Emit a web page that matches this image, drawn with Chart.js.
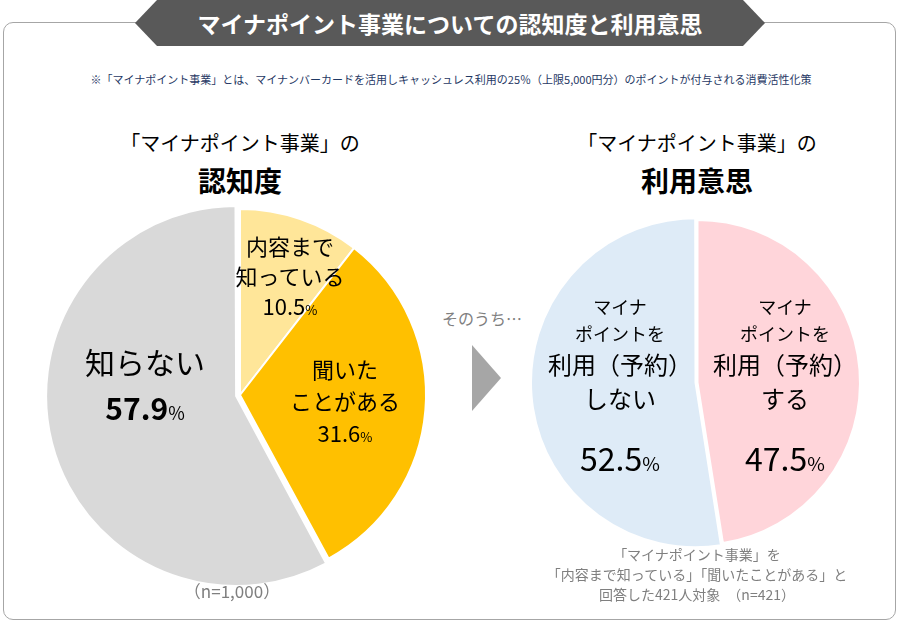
<!DOCTYPE html>
<html><head><meta charset="utf-8">
<script src="https://cdn.jsdelivr.net/npm/chart.js@4"></script>
<style>
body{margin:0;width:901px;height:626px;position:relative;background:#fff;font-family:"Noto Sans CJK JP",sans-serif;overflow:hidden}
.frame{position:absolute;left:3px;top:22px;width:891px;height:596px;border:1.5px solid #A6A6A6;border-radius:10px}
.banner{position:absolute;left:135px;top:0;width:630px;height:46px;background:#595959;clip-path:polygon(22px 0,608px 0,630px 23px,608px 46px,22px 46px,0 23px);color:#fff;font-weight:bold;font-size:23px;text-align:center;line-height:46px}
.t{position:absolute;text-align:center;white-space:nowrap;transform:translateX(-50%)}
.p{font-size:0.6em}
canvas{position:absolute}
</style></head><body>
<div class="frame"></div>
<div class="banner">マイナポイント事業についての認知度と利用意思</div>
<div class="t" style="left:451px;top:71px;font-size:11px;color:#1F3864">※「マイナポイント事業」とは、マイナンバーカードを活用しキャッシュレス利用の25％（上限5,000円分）のポイントが付与される消費活性化策</div>
<div class="t" style="left:240px;top:128px;font-size:20px;color:#000">「マイナポイント事業」の</div>
<div class="t" style="left:240px;top:160px;font-size:28px;font-weight:bold;color:#000">認知度</div>
<div class="t" style="left:697px;top:128px;font-size:20px;color:#000">「マイナポイント事業」の</div>
<div class="t" style="left:697px;top:160px;font-size:28px;font-weight:bold;color:#000">利用意思</div>
<div style="position:absolute;left:40px;top:200px;width:400px;height:390px"><canvas id="c1"></canvas></div>
<div style="position:absolute;left:525px;top:215px;width:345px;height:335px"><canvas id="c2"></canvas></div>
<div style="position:absolute;left:472px;top:345px;width:0;height:0;border-top:33px solid transparent;border-bottom:33px solid transparent;border-left:29px solid #A6A6A6"></div>
<div class="t" style="left:482px;top:306px;font-size:16px;color:#7F7F7F">そのうち…</div>
<div class="t" style="left:290px;top:230px;font-size:22px;line-height:30px;color:#000">内容まで<br>知っている<br>10.5<span class="p">%</span></div>
<div class="t" style="left:345px;top:352px;font-size:22px;line-height:32px;color:#000">聞いた<br>ことがある<br>31.6<span class="p">%</span></div>
<div class="t" style="left:145px;top:338px;font-size:30px;line-height:46px;color:#000">知らない<br><b>57.9</b><span class="p">%</span></div>
<div class="t" style="left:620px;top:293px;font-size:18px;line-height:27px;color:#000">マイナ<br>ポイントを<br><span style="font-size:24px;line-height:34px">利用（予約）<br>しない</span></div>
<div class="t" style="left:620px;top:434px;font-size:32px;color:#000">52.5<span class="p">%</span></div>
<div class="t" style="left:785px;top:293px;font-size:18px;line-height:27px;color:#000">マイナ<br>ポイントを<br><span style="font-size:24px;line-height:34px">利用（予約）<br>する</span></div>
<div class="t" style="left:785px;top:434px;font-size:32px;color:#000">47.5<span class="p">%</span></div>
<div class="t" style="left:232px;top:578px;font-size:17px;color:#7F7F7F">（n=1,000）</div>
<div class="t" style="left:697px;top:544px;font-size:14px;line-height:20px;color:#7F7F7F">「マイナポイント事業」を<br>「内容まで知っている」「聞いたことがある」と<br>回答した421人対象　（n=421）</div>
<script>
const awareLabels = ['内容まで知っている', '聞いたことがある', '知らない'];
const awareValues = [10.5, 31.6, 57.9];
const useLabels = ['利用（予約）する', '利用（予約）しない'];
const useValues = [47.5, 52.5];

const base = {
  responsive: true, maintainAspectRatio: false, animation: false,
  plugins: { legend: { display: false }, tooltip: { enabled: false } }
};
new Chart(document.getElementById('c1'), {
  type: 'pie',
  data: { labels: awareLabels, datasets: [{ data: awareValues,
    backgroundColor: ['#FFE699', '#FFC000', '#D9D9D9'],
    borderColor: '#fff', borderWidth: 2, offset: [0, 0, 16] }] },
  options: base
});
new Chart(document.getElementById('c2'), {
  type: 'pie',
  data: { labels: useLabels, datasets: [{ data: useValues,
    backgroundColor: ['#FFD5DA', '#DEEBF7'],
    borderColor: '#fff', borderWidth: 2, offset: [0, 8] }] },
  options: base
});
</script>
</body></html>
